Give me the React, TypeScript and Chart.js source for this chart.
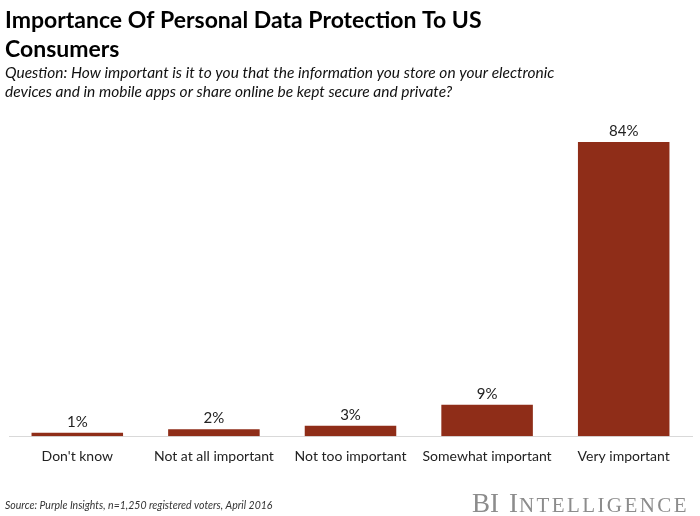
import React, { useEffect, useRef } from "react";
import { Chart, registerables } from "chart.js";

Chart.register(...registerables);

const categories = [
  "Don't know",
  "Not at all important",
  "Not too important",
  "Somewhat important",
  "Very important",
];
const values = [1, 2, 3, 9, 84];
const titleLines = ["Importance Of Personal Data Protection To US", "Consumers"];
const subtitleLines = [
  "Question: How important is it to you that the information you store on your electronic",
  "devices and in mobile apps or share online be kept secure and private?",
];
const sourceText = "Source: Purple Insights, n=1,250 registered voters, April 2016";

const BAR_COLOR = "#8f2d18";

const textPlugin = {
  id: "texts",
  afterDraw(chart: any) {
    const ctx = chart.ctx;
    ctx.save();
    // Title
    ctx.fillStyle = "#000";
    ctx.textAlign = "left";
    ctx.textBaseline = "alphabetic";
    ctx.font = "bold 23px Lato";
    ctx.fillText(titleLines[0], 5, 28);
    ctx.fillText(titleLines[1], 5, 57);
    // Subtitle
    ctx.font = "italic 15.5px Lato";
    ctx.fillStyle = "#111";
    ctx.fillText(subtitleLines[0], 5, 78);
    ctx.fillText(subtitleLines[1], 5, 97);
    // Data labels
    const meta = chart.getDatasetMeta(0);
    ctx.font = "15px Lato";
    ctx.fillStyle = "#222";
    ctx.textAlign = "center";
    meta.data.forEach((el: any, i: number) => {
      ctx.fillText(values[i] + "%", el.x, el.y - 6);
    });
    // Source
    ctx.textAlign = "left";
    ctx.font = "italic 10.5px Lato";
    ctx.fillStyle = "#333";
    ctx.fillText(sourceText, 5, 509);
    // Logo
    ctx.fillStyle = "#8c8c8c";
    let x = 472;
    const base = 512;
    ctx.font = "27px 'Liberation Serif'";
    ctx.fillText("BI", x, base);
    x += ctx.measureText("BI").width + 10;
    ctx.fillText("I", x, base);
    x += ctx.measureText("I").width + 1;
    ctx.font = "21px 'Liberation Serif'";
    (ctx as any).letterSpacing = "2.4px";
    ctx.fillText("NTELLIGENCE", x, base);
    ctx.restore();
  },
};

export default function App() {
  const ref = useRef<HTMLCanvasElement | null>(null);
  useEffect(() => {
    if (!ref.current) return;
    const chart = new Chart(ref.current, {
      type: "bar",
      data: {
        labels: categories,
        datasets: [
          {
            data: values,
            backgroundColor: BAR_COLOR,
            barPercentage: 0.67,
            categoryPercentage: 1,
          },
        ],
      },
      options: {
        animation: false,
        responsive: false,
        devicePixelRatio: 1,
        layout: { padding: { top: 121, bottom: 39, left: 9, right: 8 } },
        plugins: {
          legend: { display: false },
          tooltip: { enabled: false },
          title: { display: false },
        },
        scales: {
          x: {
            grid: { display: false, drawTicks: false },
            border: { display: true, color: "#d9d9d9", width: 1 },
            ticks: {
              font: { family: "Lato", size: 14 },
              color: "#222",
              padding: 12,
              maxRotation: 0,
              autoSkip: false,
            },
          },
          y: { display: false, min: 0, max: 90 },
        },
      },
      plugins: [textPlugin],
    });
    return () => chart.destroy();
  }, []);
  return (
    <div style={{ position: "absolute", left: 0, top: 0, width: 700, height: 516, background: "#fff" }}>
      <canvas ref={ref} width={700} height={516} />
    </div>
  );
}
